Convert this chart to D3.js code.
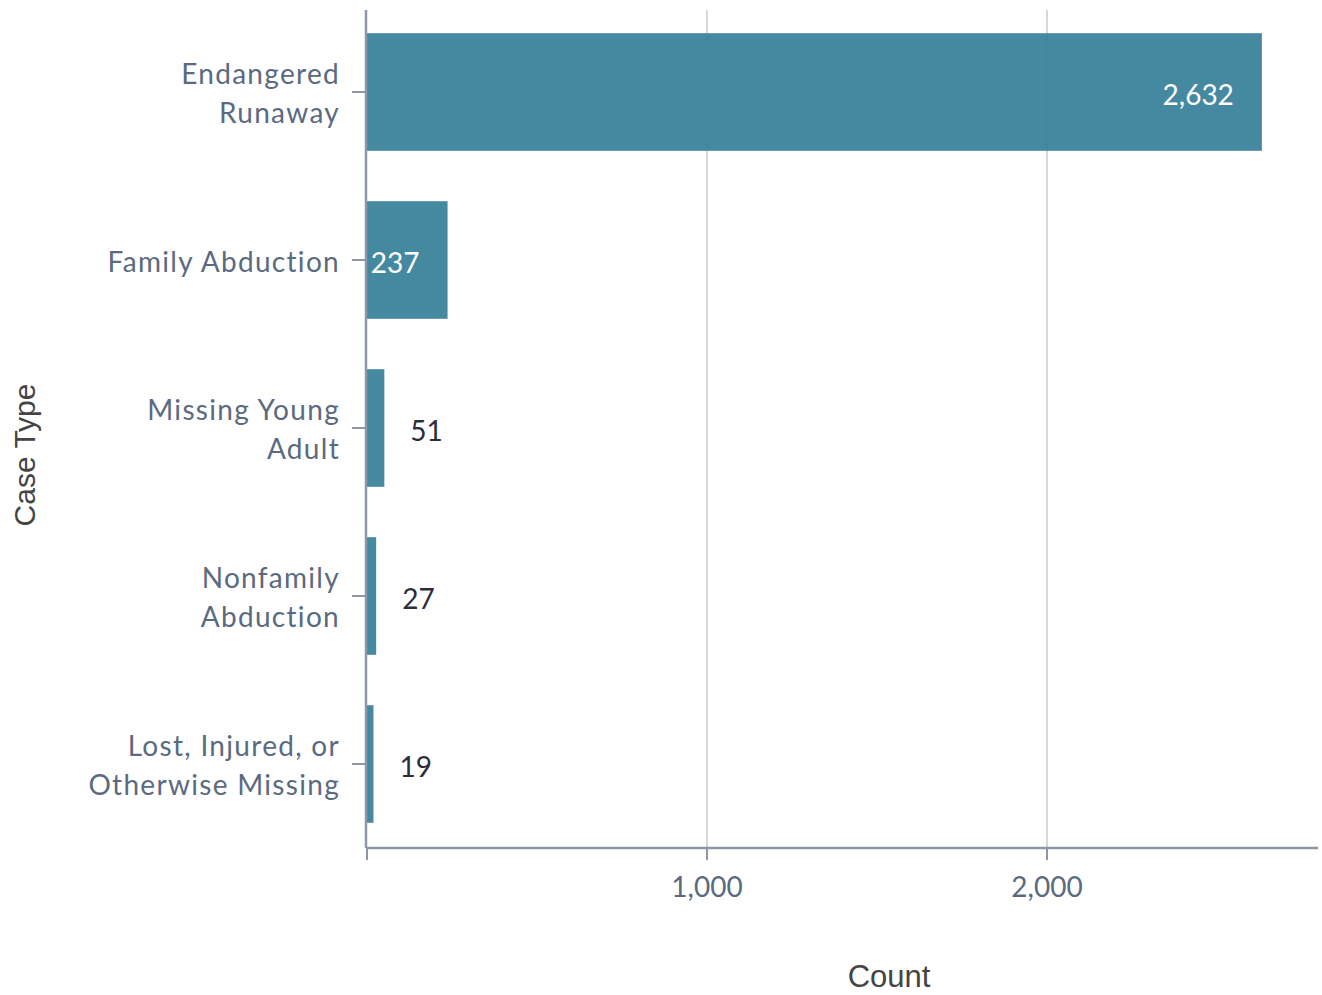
<!DOCTYPE html>
<html>
<head>
<meta charset="utf-8">
<script src="https://cdn.jsdelivr.net/npm/d3@7"></script>
<style>
  body { margin: 0; background: #fff; }
  svg text { font-family: "Lato", "Open Sans", sans-serif; }
</style>
</head>
<body>
<svg id="chart" width="1322" height="995"></svg>
<script>
// chart data
const caseTypes = ["Endangered Runaway", "Family Abduction", "Missing Young Adult", "Nonfamily Abduction", "Lost, Injured, or Otherwise Missing"];
const caseLines = [["Endangered", "Runaway"], ["Family Abduction"], ["Missing Young", "Adult"], ["Nonfamily", "Abduction"], ["Lost, Injured, or", "Otherwise Missing"]];
const counts = [2632, 237, 51, 27, 19];
const xTicks = [0, 1000, 2000];

const svg = d3.select("#chart");
const plotLeft = 367, plotRight = 1319, plotTop = 8, plotBottom = 848;

const x = d3.scaleLinear().domain([0, 2800]).range([plotLeft, plotRight]);
const y = d3.scaleBand().domain(caseTypes).range([plotTop, plotBottom]).paddingInner(0.3).paddingOuter(0.15);
const fmt = d3.format(",");

// gridlines
svg.append("g").selectAll("line")
    .data(xTicks.filter(d => d > 0))
    .enter().append("line")
    .attr("x1", d => x(d)).attr("x2", d => x(d))
    .attr("y1", 10).attr("y2", plotBottom)
    .attr("stroke", "#d3d7de").attr("stroke-width", 2);

// bars
svg.append("g").selectAll("rect")
    .data(counts)
    .enter().append("rect")
    .attr("x", x(0))
    .attr("y", (d, i) => y(caseTypes[i]))
    .attr("width", d => x(d) - x(0))
    .attr("height", y.bandwidth())
    .attr("fill", "#357f99")
    .attr("fill-opacity", 0.92);

// value labels
svg.append("g").selectAll("text")
    .data(counts)
    .enter().append("text")
    .attr("x", d => (x(d) - x(0) > 60) ? x(d) - 28 : x(d) + 26)
    .attr("y", (d, i) => y(caseTypes[i]) + y.bandwidth() / 2 + 3)
    .attr("dy", "0.35em")
    .attr("text-anchor", d => (x(d) - x(0) > 60) ? "end" : "start")
    .attr("fill", d => (x(d) - x(0) > 60) ? "#ffffff" : "#2b2d3b")
    .style("font-size", "28px")
    .text(d => fmt(d));

// y axis
svg.append("line")
    .attr("x1", 366).attr("x2", 366).attr("y1", 10).attr("y2", plotBottom)
    .attr("stroke", "#8e97a6").attr("stroke-width", 2.5);

const yTick = svg.append("g").selectAll("g")
    .data(caseTypes)
    .enter().append("g")
    .attr("transform", d => "translate(0," + (y(d) + y.bandwidth() / 2) + ")");
yTick.append("line")
    .attr("x1", 352).attr("x2", 366)
    .attr("stroke", "#8e97a6").attr("stroke-width", 2);
yTick.append("text")
    .attr("x", 340)
    .attr("text-anchor", "end")
    .attr("fill", "#5a6a80")
    .style("font-size", "28px")
    .style("letter-spacing", "1.3px")
    .each(function(d, i) {
        const lines = caseLines[i];
        const t = d3.select(this);
        lines.forEach((ln, k) => {
            t.append("tspan")
                .attr("x", 340)
                .attr("y", (k - (lines.length - 1) / 2) * 39 + 2)
                .attr("dy", "0.35em")
                .text(ln);
        });
    });

// x axis
svg.append("line")
    .attr("x1", 366).attr("x2", 1318).attr("y1", plotBottom).attr("y2", plotBottom)
    .attr("stroke", "#8e97a6").attr("stroke-width", 2.5);

const xTick = svg.append("g").selectAll("g")
    .data(xTicks)
    .enter().append("g")
    .attr("transform", d => "translate(" + x(d) + "," + plotBottom + ")");
xTick.append("line")
    .attr("y1", 0).attr("y2", 12)
    .attr("stroke", "#8e97a6").attr("stroke-width", 2);
xTick.append("text")
    .attr("y", 39)
    .attr("dy", "0.35em")
    .attr("text-anchor", "middle")
    .attr("fill", "#5a6a80")
    .style("font-size", "28px")
    .text(d => d === 0 ? "" : fmt(d));

// axis titles
svg.append("text")
    .attr("x", 889).attr("y", 976)
    .attr("dy", "0.35em")
    .attr("text-anchor", "middle")
    .attr("fill", "#444")
    .style("font-family", "'Liberation Sans', Arial, sans-serif")
    .style("font-size", "31px")
    .text("Count");

svg.append("text")
    .attr("transform", "translate(24,455) rotate(-90)")
    .attr("dy", "0.35em")
    .attr("text-anchor", "middle")
    .attr("fill", "#444")
    .style("font-family", "'Liberation Sans', Arial, sans-serif")
    .style("font-size", "30px")
    .text("Case Type");
</script>
</body>
</html>
